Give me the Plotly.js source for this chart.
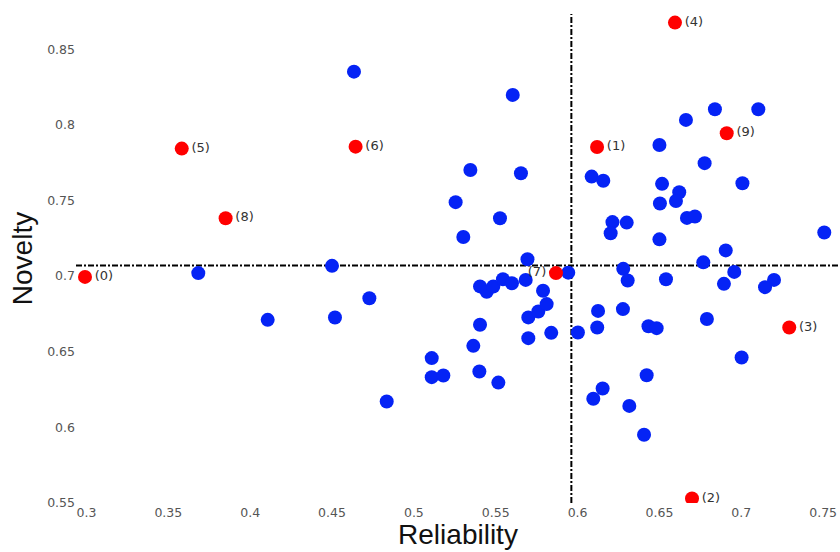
<!DOCTYPE html>
<html>
<head>
<meta charset="utf-8">
<script src="https://cdn.plot.ly/plotly-3.0.1.min.js"></script>
<style>html,body{margin:0;padding:0;background:#fff;}#chart{width:840px;height:552px;}</style>
</head>
<body>
<div id="chart"></div>
<script>
// Blue points (Reliability, Novelty)
const blueReliability = [0.3683,0.4107,0.4500,0.4518,0.4634,0.4728,0.4834,0.5109,0.5109,0.5180,
  0.5255,0.5302,0.5345,0.5363,0.5400,0.5404,0.5445,0.5485,0.5404,0.5516,
  0.5526,0.5544,0.5599,0.5604,0.5654,0.5683,0.5694,0.5699,0.5699,0.5760,
  0.5789,0.5811,0.5839,0.5943,0.6002,0.6086,0.6157,0.6213,0.6300,0.6202,
  0.6500,0.6662,0.6839,0.7104,0.6776,0.6516,0.7007,0.6621,0.6601,0.6503,
  0.6668,0.6717,0.6500,0.7507,0.6905,0.6768,0.6279,0.6957,0.6540,0.7200,
  0.6306,0.6894,0.7145,0.6125,0.6277,0.6790,0.6120,0.6433,0.6483,0.7002,
  0.6422,0.6153,0.6096,0.6316,0.6406];
const blueNovelty = [0.7020,0.6711,0.7068,0.6726,0.8352,0.6854,0.6171,0.6458,0.6332,0.6343,
  0.7489,0.7259,0.7702,0.6539,0.6369,0.6932,0.6896,0.6931,0.6678,0.6296,
  0.7383,0.6979,0.6953,0.8198,0.7680,0.6975,0.7112,0.6727,0.6590,0.6766,
  0.6903,0.6815,0.6625,0.7023,0.6627,0.7658,0.7631,0.7357,0.7354,0.7283,
  0.7867,0.8033,0.8103,0.8103,0.7747,0.7610,0.7614,0.7555,0.7497,0.7480,
  0.7385,0.7394,0.7243,0.7288,0.7170,0.7091,0.7048,0.7028,0.6979,0.6975,
  0.6971,0.6949,0.6927,0.6770,0.6782,0.6717,0.6660,0.6669,0.6656,0.6462,
  0.6345,0.6257,0.6189,0.6142,0.5951];

// Red labelled points
const redLabels = ["(0)","(1)","(2)","(3)","(4)","(5)","(6)","(7)","(8)","(9)"];
const redReliability = [0.2991,0.6119,0.6699,0.7293,0.6595,0.3582,0.4644,0.5868,0.3850,0.6911];
const redNovelty = [0.6995,0.7854,0.5530,0.6660,0.8676,0.7843,0.7856,0.7020,0.7383,0.7945];
const redTextPos = ["middle right","middle right","middle right","middle right","middle right",
  "middle right","middle right","middle left","middle right","middle right"];

// Reference lines (means)
const meanReliability = 0.5962;
const meanNovelty = 0.7070;

// Axis ticks
const xTicks = [0.3,0.35,0.4,0.45,0.5,0.55,0.6,0.65,0.7,0.75];
const yTicks = [0.55,0.6,0.65,0.7,0.75,0.8,0.85];

const traces = [
  {
    type: "scatter", mode: "markers",
    x: blueReliability, y: blueNovelty,
    marker: {color: "rgb(5,35,245)", size: 14, line: {width: 0}},
    hoverinfo: "x+y", showlegend: false
  },
  {
    type: "scatter", mode: "markers+text",
    x: redReliability, y: redNovelty,
    text: redLabels, textposition: redTextPos,
    textfont: {family: "DejaVu Sans", size: 13, color: "#333"},
    marker: {color: "rgb(255,0,0)", size: 14, line: {width: 0}},
    hoverinfo: "x+y+text", showlegend: false
  }
];

const lineStyle = {color: "#000", width: 2, dash: "6px,2px,2px,2px"};

const layout = {
  width: 840, height: 552,
  margin: {l: 76, r: 0, t: 14, b: 49, pad: 0},
  paper_bgcolor: "#fff", plot_bgcolor: "#fff",
  font: {family: "DejaVu Sans", size: 13, color: "#555"},
  showlegend: false,
  xaxis: {
    range: [0.2936, 0.7603],
    tickmode: "array", tickvals: xTicks, ticktext: xTicks.map(String),
    showgrid: false, zeroline: false, showline: false, ticks: "",
    tickfont: {family: "DejaVu Sans", size: 12.5, color: "#555"},
    title: {text: "Reliability", font: {family: "Liberation Sans", size: 28, color: "#111"}, standoff: 5},
    automargin: false
  },
  yaxis: {
    range: [0.55, 0.8733],
    tickmode: "array", tickvals: yTicks, ticktext: yTicks.map(String),
    showgrid: false, zeroline: false, showline: false, ticks: "",
    tickfont: {family: "DejaVu Sans", size: 12.5, color: "#555"},
    title: {text: "Novelty", font: {family: "Liberation Sans", size: 28, color: "#111"}, standoff: 6},
    automargin: false
  },
  shapes: [
    {type: "line", xref: "paper", yref: "y", x0: 0, x1: 1, y0: meanNovelty, y1: meanNovelty, line: lineStyle, layer: "below"},
    {type: "line", xref: "x", yref: "paper", x0: meanReliability, x1: meanReliability, y0: 0, y1: 1, line: lineStyle, layer: "below"}
  ]
};

Plotly.newPlot("chart", traces, layout, {displayModeBar: false, staticPlot: true});
</script>
</body>
</html>
